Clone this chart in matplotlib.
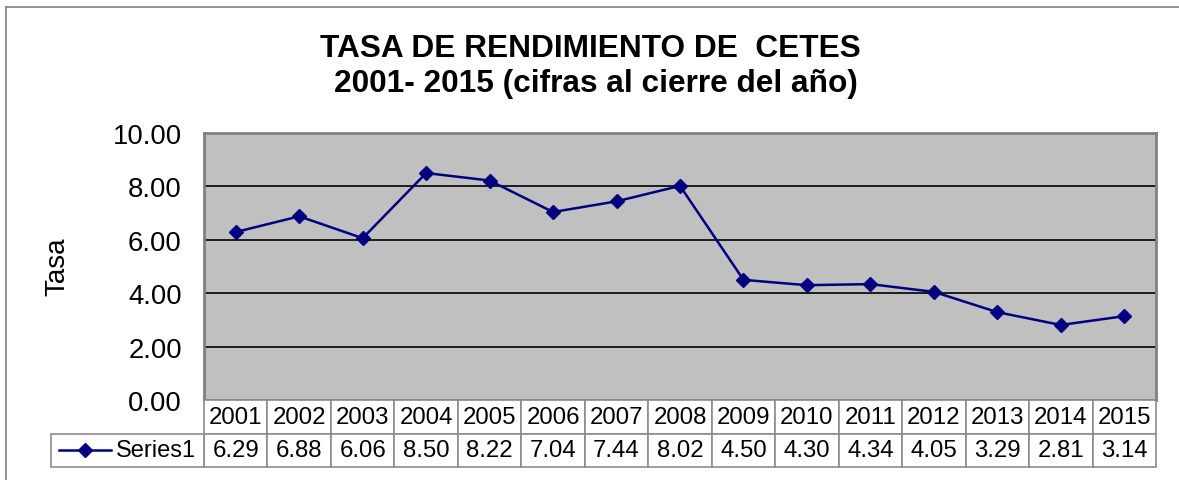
import matplotlib
matplotlib.use("Agg")
import matplotlib.pyplot as plt
from matplotlib.lines import Line2D
from matplotlib.patches import Rectangle

years = ["2001", "2002", "2003", "2004", "2005", "2006", "2007", "2008",
         "2009", "2010", "2011", "2012", "2013", "2014", "2015"]
tasa = [6.29, 6.88, 6.06, 8.50, 8.22, 7.04, 7.44, 8.02,
        4.50, 4.30, 4.34, 4.05, 3.29, 2.81, 3.14]
series_name = "Series1"
yticks = [0, 2, 4, 6, 8, 10]

plt.rcParams["font.family"] = ["Liberation Sans", "DejaVu Sans"]

W, H = 1179, 481
fig = plt.figure(figsize=(W / 100, H / 100), dpi=100)

# outer chart border (cut off on right/bottom like the screenshot)
fig.add_artist(Line2D([5.5 / W, 5.5 / W], [0, 1 - 8 / H], color="#808080", lw=1.2))
fig.add_artist(Line2D([5.5 / W, 1], [1 - 8 / H, 1 - 8 / H], color="#808080", lw=1.2))

# plot area in pixels
L, R, T, B = 204, 1156, 134, 401
ax = fig.add_axes([L / W, (H - B) / H, (R - L) / W, (B - T) / H])
ax.set_facecolor("#C0C0C0")
n = len(years)
x = list(range(n))
ax.set_xlim(-0.5, n - 0.5)
ax.set_ylim(0, 10)
ax.set_yticks(yticks)
ax.set_yticklabels([f"{v:.2f}" for v in yticks], fontsize=19.8)
ax.tick_params(axis="y", length=0, pad=16)
ax.set_xticks([])
for s in ax.spines.values():
    s.set_color("#808080")
    s.set_linewidth(2)
for v in yticks[1:-1]:
    ax.axhline(v, color="black", lw=1.2, zorder=1)

ax.plot(x, tasa, color="#000080", lw=1.8, marker="D", markersize=7, zorder=3)

fig.text(57 / W, 1 - 267 / H, "Tasa", rotation=90,
         fontsize=20, ha="center", va="center")

fig.text(590 / W, 1 - 49 / H, "TASA DE RENDIMIENTO DE  CETES", fontsize=22.8,
         fontweight="bold", ha="center", va="center")
fig.text(596 / W, 1 - 84 / H, "2001- 2015 (cifras al cierre del año)", fontsize=22.8,
         fontweight="bold", ha="center", va="center")

# data table below the plot area
row_h = 33.5
grid_c = "#8c8c8c"
cell_w = (R - L) / n
r1_top, r1_bot = B, B + row_h
r2_top, r2_bot = r1_bot, r1_bot + row_h
lab_left = 51


def fx(px):
    return px / W


def fy(py):
    return 1 - py / H


for i in range(n):
    x0 = L + i * cell_w
    for top, txt in [(r1_top, years[i]), (r2_top, f"{tasa[i]:.2f}")]:
        fig.add_artist(Rectangle((fx(x0), fy(top + row_h)), cell_w / W, row_h / H,
                                 facecolor="white", edgecolor=grid_c, lw=1.2))
        fig.text(fx(x0 + cell_w / 2), fy(top + row_h / 2), txt, fontsize=17.3,
                 ha="center", va="center")

fig.add_artist(Rectangle((fx(lab_left), fy(r2_bot)), (L - lab_left) / W, row_h / H,
                         facecolor="white", edgecolor=grid_c, lw=1.2))
ky = fy(r2_top + row_h / 2)
fig.add_artist(Line2D([fx(59), fx(111)], [ky, ky], color="#000080", lw=1.8))
fig.add_artist(Line2D([fx(85)], [ky], color="#000080", marker="D", markersize=7))
fig.text(fx(116), ky, series_name, fontsize=17, ha="left", va="center")

fig.savefig("out.png", dpi=100)
